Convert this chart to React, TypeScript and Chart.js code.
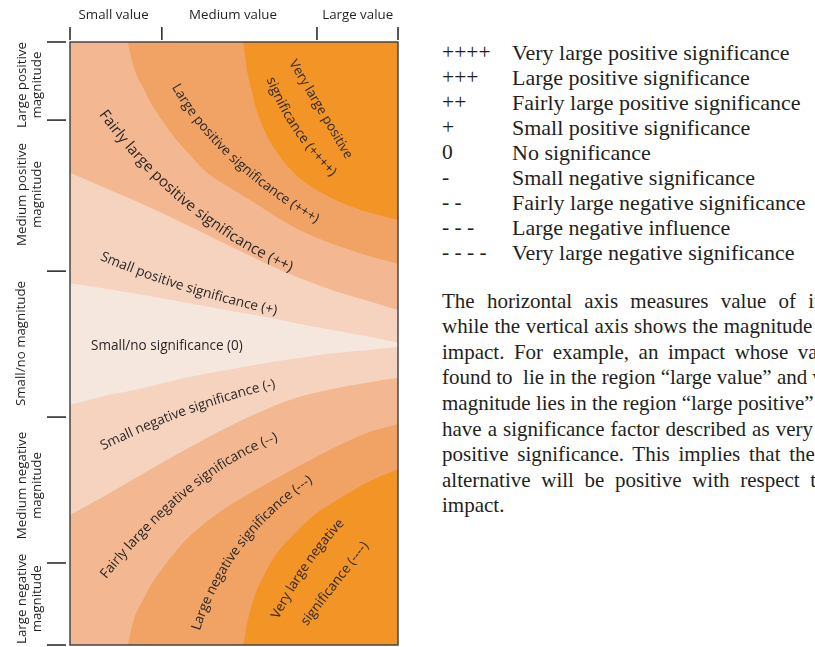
import React, { useEffect, useRef } from "react";
import { Chart, registerables } from "chart.js";

Chart.register(...registerables);

// ---------------- data (value on x: 0..10, magnitude on y: -10..10) ----------------
const valueGrid = [0, 1, 2, 3, 4, 5, 6, 7, 8, 9, 10];

// upper edge of "Small/no significance (0)" -> start of "+" region
const smallPositiveEdge = [2.0, 1.83, 1.65, 1.46, 1.26, 1.06, 0.87, 0.65, 0.45, 0.25, 0.03];
// start of "++" region
const fairlyPositiveEdge = [5.66, 5.19, 4.73, 4.23, 3.7, 3.17, 2.64, 2.17, 1.77, 1.44, 1.11];
// start of "+++" region
const largePositiveX = [0, 1.74, 1.86, 1.98, 2.23, 2.5, 2.84, 3.2, 3.66, 4.12, 4.79, 5.49, 6.25, 7.01, 7.77, 8.54, 9.3, 10];
const largePositiveEdge = [10, 10, 9.5, 9.04, 8.48, 7.91, 7.35, 6.82, 6.25, 5.72, 5.22, 4.76, 4.23, 3.76, 3.4, 3.1, 2.84, 2.64];
// start of "++++" region
const veryLargePositiveX = [0, 5.27, 5.34, 5.4, 5.52, 5.64, 5.82, 6.04, 6.37, 6.77, 7.23, 7.68, 8.23, 8.99, 10];
const veryLargePositiveEdge = [10, 10, 9.5, 9.04, 8.48, 7.91, 7.35, 6.82, 6.25, 5.72, 5.29, 4.99, 4.69, 4.39, 4.1];

// lower edge of "0" -> start of "-" region
const smallNegativeEdge = [-2.04, -1.75, -1.53, -1.27, -1.03, -0.84, -0.64, -0.48, -0.32, -0.22, -0.12];
// start of "--" region
const fairlyNegativeEdge = [-5.69, -5.09, -4.46, -3.83, -3.23, -2.67, -2.17, -1.77, -1.51, -1.31, -1.14];
// start of "---" region
const largeNegativeX = [0, 1.74, 1.86, 1.98, 2.23, 2.5, 2.84, 3.2, 3.66, 4.2, 4.75, 5.3, 5.95, 6.71, 7.47, 8.23, 8.99, 10];
const largeNegativeEdge = [-10, -10, -9.5, -9.04, -8.5, -7.95, -7.42, -6.92, -6.38, -5.88, -5.45, -5.08, -4.68, -4.22, -3.78, -3.36, -2.99, -2.67];
// start of "----" region
const veryLargeNegativeX = [0, 5.27, 5.4, 5.61, 5.95, 6.34, 6.86, 7.41, 7.99, 8.54, 9.15, 10];
const veryLargeNegativeEdge = [-10, -10, -9.27, -8.44, -7.61, -6.91, -6.29, -5.72, -5.29, -4.93, -4.56, -4.16];

// axes
const valueTicks = [0, 2.8, 7.53, 10];
const valueLabels = ["Small value", "Medium value", "Large value"];
const valueLabelAt = [1.33, 4.97, 8.77];
const magnitudeTicks = [10, 7.41, 2.4, -2.44, -7.28, -10];
const magnitudeLabels = [
  ["Large positive", "magnitude"],
  ["Medium positive", "magnitude"],
  ["Small/no magnitude"],
  ["Medium negative", "magnitude"],
  ["Large negative", "magnitude"],
];
const magnitudeLabelAt = [8.57, 4.94, 0, -4.71, -8.47];

// region labels: text + guide curve (start, middle, end of the text) in data units
const regionLabelTexts = [
  "Very large positive",
  "significance (++++)",
  "Large positive significance (+++)",
  "Fairly large positive significance (++)",
  "Small positive significance (+)",
  "Small/no significance (0)",
  "Small negative significance (-)",
  "Fairly large negative significance (--)",
  "Large negative significance (---)",
  "Very large negative",
  "significance (----)",
];
const regionLabelGuides = [
  [[6.77, 9.37], [7.62, 7.81], [8.51, 6.16]],
  [[6.1, 8.81], [6.89, 7.15], [8.05, 5.62]],
  [[3.2, 8.57], [4.94, 6.19], [7.56, 4.1]],
  [[0.98, 7.68], [3.6, 4.63], [6.77, 2.5]],
  [[0.95, 2.9], [3.51, 1.87], [6.31, 1.08]],
  [[0.64, -0.08], [2.96, -0.08], [5.27, -0.08]],
  [[0.95, -3.43], [3.51, -2.24], [6.25, -1.34]],
  [[1.01, -7.74], [3.66, -4.79], [6.31, -3.1]],
  [[3.84, -9.5], [5.18, -6.68], [7.35, -4.49]],
  [[6.25, -9.1], [7.2, -7.35], [8.29, -5.89]],
  [[7.13, -9.3], [8.11, -7.91], [9.02, -6.63]],
];

// legend + explanation
const legendSymbols = ["++++", "+++", "++", "+", "0", "-", "- -", "- - -", "- - - -"];
const legendTexts = [
  "Very large positive significance",
  "Large positive significance",
  "Fairly large positive significance",
  "Small positive significance",
  "No significance",
  "Small negative significance",
  "Fairly large negative significance",
  "Large negative influence",
  "Very large negative significance",
];
const paragraphLines = [
  "The horizontal axis measures value of impact",
  "while the vertical axis shows the magnitude of",
  "impact. For example, an impact whose value is",
  "found to  lie in the region \u201clarge value\u201d and whose",
  "magnitude lies in the region \u201clarge positive\u201d will",
  "have a significance factor described as very large",
  "positive significance. This implies that the",
  "alternative will be positive with respect to",
  "impact.",
];

// ---------------- styles ----------------
const COLORS = {
  zero: "#F6E7DE",
  small: "#F6D3BF",
  fairly: "#F3B891",
  large: "#F0A365",
  veryLarge: "#F39426",
};
const paragraphWordSpacing = [7, 0.5, 4.3, 0, 0, 0.8, 3.5, 5.4, 0];
const BASE_FONT_PX = 13.3;
const FONT_FAMILY = "'Open Sans'";
const SERIF = "'Liberation Serif', 'Times New Roman', serif";

type P = { x: number; y: number };

function drawOnCurve(ctx: CanvasRenderingContext2D, text: string, g: P[]) {
  const [p0, m, p2] = g;
  const c = { x: 2 * m.x - (p0.x + p2.x) / 2, y: 2 * m.y - (p0.y + p2.y) / 2 };
  const N = 240;
  const pts: P[] = [];
  const lens: number[] = [0];
  for (let i = 0; i <= N; i++) {
    const t = i / N;
    const a = (1 - t) * (1 - t), b = 2 * (1 - t) * t, d = t * t;
    pts.push({ x: a * p0.x + b * c.x + d * p2.x, y: a * p0.y + b * c.y + d * p2.y });
    if (i > 0) lens.push(lens[i - 1] + Math.hypot(pts[i].x - pts[i - 1].x, pts[i].y - pts[i - 1].y));
  }
  const L = lens[N];
  const at = (s: number) => {
    if (s <= 0) {
      const dx = pts[1].x - pts[0].x, dy = pts[1].y - pts[0].y, dd = Math.hypot(dx, dy);
      return { x: pts[0].x + (dx / dd) * s, y: pts[0].y + (dy / dd) * s, a: Math.atan2(dy, dx) };
    }
    if (s >= L) {
      const dx = pts[N].x - pts[N - 1].x, dy = pts[N].y - pts[N - 1].y, dd = Math.hypot(dx, dy);
      return { x: pts[N].x + (dx / dd) * (s - L), y: pts[N].y + (dy / dd) * (s - L), a: Math.atan2(dy, dx) };
    }
    let i = 1;
    while (lens[i] < s) i++;
    const f = (s - lens[i - 1]) / (lens[i] - lens[i - 1]);
    const dx = pts[i].x - pts[i - 1].x, dy = pts[i].y - pts[i - 1].y;
    return { x: pts[i - 1].x + dx * f, y: pts[i - 1].y + dy * f, a: Math.atan2(dy, dx) };
  };
  // fit the font size to the guide length (within limits)
  ctx.font = `${BASE_FONT_PX}px ${FONT_FAMILY}`;
  const w0 = ctx.measureText(text).width;
  const size = Math.max(12.6, Math.min(15, (BASE_FONT_PX * L) / w0));
  ctx.font = `${size}px ${FONT_FAMILY}`;
  const total = ctx.measureText(text).width;
  const s0 = (L - total) / 2;
  for (let i = 0; i < text.length; i++) {
    const ch = text[i];
    const before = ctx.measureText(text.slice(0, i)).width;
    const cw = ctx.measureText(ch).width;
    const q = at(s0 + before + cw / 2);
    ctx.save();
    ctx.translate(q.x, q.y);
    ctx.rotate(q.a);
    ctx.fillText(ch, 0, 0);
    ctx.restore();
  }
}

const decor = {
  id: "decor",
  afterDraw(chart: any) {
    const { ctx, chartArea: a, scales } = chart;
    const xs = scales.x, ys = scales.y;
    ctx.save();
    ctx.strokeStyle = "#3b3b3b";
    ctx.lineWidth = 1.4;
    ctx.strokeRect(a.left, a.top, a.right - a.left, a.bottom - a.top);

    ctx.strokeStyle = "#231f20";
    ctx.lineWidth = 1.5;
    valueTicks.forEach((v) => {
      const px = xs.getPixelForValue(v);
      ctx.beginPath();
      ctx.moveTo(px, a.top - 15);
      ctx.lineTo(px, a.top - 2);
      ctx.stroke();
    });
    magnitudeTicks.forEach((v) => {
      const py = ys.getPixelForValue(v);
      ctx.beginPath();
      ctx.moveTo(a.left - 23, py);
      ctx.lineTo(a.left - 4, py);
      ctx.stroke();
    });

    ctx.fillStyle = "#231f20";
    ctx.font = `${BASE_FONT_PX}px ${FONT_FAMILY}`;
    ctx.textAlign = "center";
    ctx.textBaseline = "middle";
    valueLabels.forEach((t, i) => ctx.fillText(t, xs.getPixelForValue(valueLabelAt[i]), a.top - 27));
    magnitudeLabels.forEach((lines, i) => {
      const py = ys.getPixelForValue(magnitudeLabelAt[i]);
      lines.forEach((ln, j) => {
        const off = lines.length === 1 ? -49 : j === 0 ? -48 : -33;
        ctx.save();
        ctx.translate(a.left + off, py);
        ctx.rotate(-Math.PI / 2);
        ctx.fillText(ln, 0, 0);
        ctx.restore();
      });
    });

    ctx.fillStyle = "#2b2627";
    regionLabelTexts.forEach((t, i) => {
      const g = regionLabelGuides[i].map(([vx, vy]) => ({ x: xs.getPixelForValue(vx), y: ys.getPixelForValue(vy) }));
      drawOnCurve(ctx, t, g);
    });
    ctx.restore();
  },
};

const toPoints = (xsArr: number[], ysArr: number[]) => xsArr.map((x, i) => ({ x, y: ysArr[i] }));

export default function App() {
  const ref = useRef<HTMLCanvasElement>(null);
  useEffect(() => {
    const canvas = ref.current!;
    const band = (label: string, data: any[], fill: string, color: string, order: number) => ({
      label,
      data,
      fill,
      backgroundColor: color,
      borderColor: "rgba(0,0,0,0)",
      borderWidth: 0,
      pointRadius: 0,
      cubicInterpolationMode: "monotone" as const,
      order,
    });
    const chart = new Chart(canvas, {
      type: "line",
      data: {
        datasets: [
          band("No significance (0)", toPoints([0, 10], [10, 10]), "start", COLORS.zero, 10),
          band("Small positive (+)", toPoints(valueGrid, smallPositiveEdge), "end", COLORS.small, 8),
          band("Fairly large positive (++)", toPoints(valueGrid, fairlyPositiveEdge), "end", COLORS.fairly, 7),
          band("Large positive (+++)", toPoints(largePositiveX, largePositiveEdge), "end", COLORS.large, 6),
          band("Very large positive (++++)", toPoints(veryLargePositiveX, veryLargePositiveEdge), "end", COLORS.veryLarge, 5),
          band("Small negative (-)", toPoints(valueGrid, smallNegativeEdge), "start", COLORS.small, 8),
          band("Fairly large negative (--)", toPoints(valueGrid, fairlyNegativeEdge), "start", COLORS.fairly, 7),
          band("Large negative (---)", toPoints(largeNegativeX, largeNegativeEdge), "start", COLORS.large, 6),
          band("Very large negative (----)", toPoints(veryLargeNegativeX, veryLargeNegativeEdge), "start", COLORS.veryLarge, 5),
        ] as any,
      },
      options: {
        responsive: false,
        animation: false,
        events: [],
        layout: { padding: { left: 70, top: 42, right: 12, bottom: 2 } },
        scales: {
          x: { type: "linear", min: 0, max: 10, display: false },
          y: { type: "linear", min: -10, max: 10, display: false },
        },
        plugins: { legend: { display: false }, tooltip: { enabled: false } },
      },
      plugins: [decor],
    });
    return () => chart.destroy();
  }, []);

  return (
    <div
      style={{
        position: "fixed",
        left: 0,
        top: 0,
        width: 815,
        height: 647,
        overflow: "hidden",
        background: "#ffffff",
        fontFamily: SERIF,
        color: "#231f20",
      }}
    >
      <canvas ref={ref} width={410} height={647} style={{ position: "absolute", left: 0, top: 0 }} />
      {legendSymbols.map((s, i) => (
        <React.Fragment key={"lg" + i}>
          <div style={{ position: "absolute", left: 442, top: 52 + i * 25.1 - 12.5, height: 25, lineHeight: "25px", fontSize: 21.5, whiteSpace: "pre" }}>{s}</div>
          <div style={{ position: "absolute", left: 512, top: 52 + i * 25.1 - 12.5, height: 25, lineHeight: "25px", fontSize: 22, whiteSpace: "pre" }}>{legendTexts[i]}</div>
        </React.Fragment>
      ))}
      {paragraphLines.map((ln, i) => (
        <div
          key={"p" + i}
          style={{
            position: "absolute",
            left: 442,
            top: 301 + i * 25.6 - 12.5,
            height: 25,
            lineHeight: "25px",
            fontSize: 21,
            whiteSpace: "pre",
            wordSpacing: paragraphWordSpacing[i],
          }}
        >
          {ln}
        </div>
      ))}
    </div>
  );
}
